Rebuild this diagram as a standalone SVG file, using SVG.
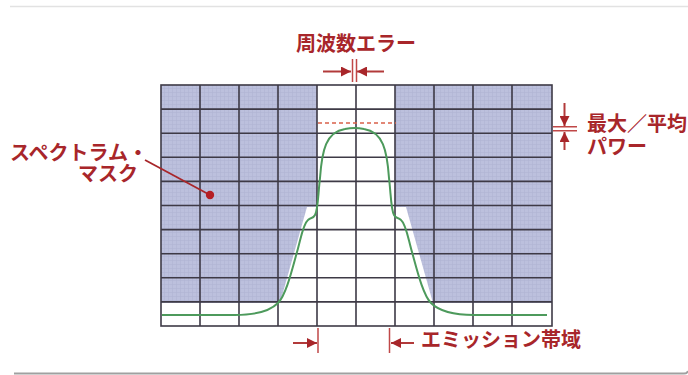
<svg xmlns="http://www.w3.org/2000/svg" width="688" height="375" viewBox="0 0 688 375">
<style>
.lbl{font-family:"Noto Sans CJK JP","Noto Sans",sans-serif;font-size:20px;font-weight:700;fill:#a8262a}
.grid{stroke:#3e3a46;stroke-width:1.6;fill:none}
.arr{stroke:#b23a3a;stroke-width:2;fill:none}
.tick{stroke:#c04848;stroke-width:1.5;fill:none}
</style>
<defs>
<pattern id="tex" width="4" height="4" patternUnits="userSpaceOnUse">
<rect width="4" height="4" fill="#bcc0dd"/>
<path d="M0,0.5H4M0.5,0V4" stroke="#b0b4d4" stroke-width="0.6"/>
</pattern>
<marker id="ah" viewBox="0 0 10 10" refX="10" refY="5" markerWidth="10" markerHeight="10" markerUnits="userSpaceOnUse" orient="auto">
<path d="M0,0L10,5L0,10z" fill="#a8262a"/>
</marker>
</defs>
<rect width="688" height="375" fill="#ffffff"/>
<path d="M10,6.5H688" stroke="#e2e2e2" stroke-width="1.5"/>
<path d="M14,373.5H684Q687,373.5 688,371" stroke="#a0a0a0" stroke-width="2" fill="none"/>

<g id="mask">
<path d="M161,85H317V207H307L280,303H161Z" fill="url(#tex)"/>
<path d="M395,85H552V303H433L406,207H395Z" fill="url(#tex)"/>
</g>

<g id="grid" class="grid">
<rect x="161" y="85" width="391" height="241"/>
<path d="M200,85V326M239,85V326M278,85V326M317,85V326M356,85V326M395,85V326M434,85V326M473,85V326M512,85V326"/>
<path d="M161,109.1H552M161,133.2H552M161,157.3H552M161,181.4H552M161,205.5H552M161,229.6H552M161,253.7H552M161,277.8H552M161,301.9H552"/>
</g>

<g id="spectrum">
<path d="M162,315L235,315C255,315 270,311 278,303C286,295 292,270 297,252C301,238 303,224 308,220C311,217 313,219 315,215C318,210 318,195 320,178C322,150 326,132 345,129C350,128 359,128 364,129C383,132 387,150 389,178C391,195 391,210 394,215C396,219 398,217 401,220C406,224 408,238 412,252C417,270 423,295 431,303C439,311 454,315 474,315L547,315" fill="none" stroke="#4d9a5c" stroke-width="2"/>
<path d="M318,123H396" stroke="#d9604a" stroke-width="1.6" stroke-dasharray="4,3"/>
</g>

<g id="connectors">
<path class="arr" d="M323,71.5H351" marker-end="url(#ah)"/>
<path class="arr" d="M384,71.5H357" marker-end="url(#ah)"/>
<path class="tick" d="M352.5,59V82M356.5,59V82"/>
<path class="arr" d="M564.5,103V126" marker-end="url(#ah)"/>
<path class="arr" d="M564.5,150V132" marker-end="url(#ah)"/>
<path class="tick" d="M553,126.7H577M553,130.7H577"/>
<path class="arr" d="M293,343H317" marker-end="url(#ah)"/>
<path class="arr" d="M414,343H391" marker-end="url(#ah)"/>
<path class="tick" d="M318,328V353M389.5,328V353"/>
<path d="M145,160L210,195" stroke="#a8262a" stroke-width="1.8"/>
<circle cx="210" cy="195" r="4.2" fill="#b51e24"/>
</g>

<g id="label-freq"><text class="lbl" x="356" y="51" text-anchor="middle">周波数エラー</text></g>
<g id="label-mask">
<text class="lbl" x="10" y="160">スペクトラム・</text>
<text class="lbl" x="138" y="181" text-anchor="end">マスク</text>
</g>
<g id="label-power">
<text class="lbl" x="587" y="131">最大／平均</text>
<text class="lbl" x="587" y="154">パワー</text>
</g>
<g id="label-emission"><text class="lbl" x="421" y="347">エミッション帯域</text></g>
</svg>
